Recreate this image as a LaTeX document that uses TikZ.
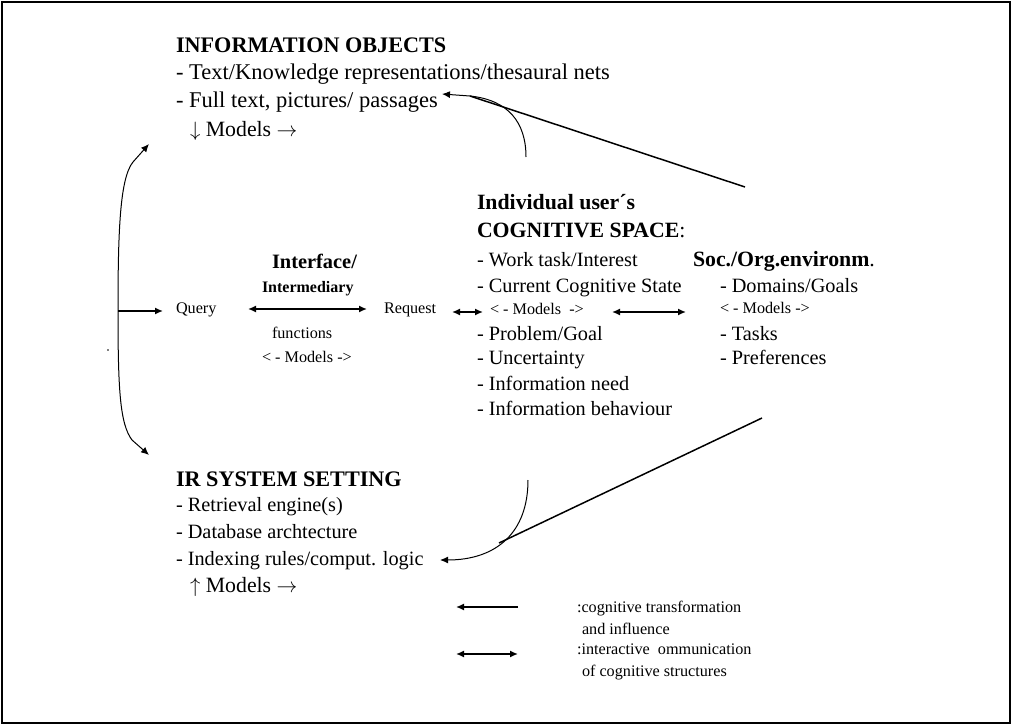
\documentclass[tikz,border=0pt]{standalone}
\usepackage{fontspec}
\setmainfont{Liberation Serif}
\usetikzlibrary{arrows.meta}
\tikzset{arrowhd/.tip={Latex[length=8pt,width=7pt]}}
\begin{document}
\begin{tikzpicture}[x=1pt,y=-1pt,
  txt/.style={anchor=base west,inner sep=0pt,outer sep=0pt},
  headA/.style={txt,font=\fontsize{22.2}{26}\selectfont\bfseries},
  headB/.style={txt,font=\fontsize{21.8}{26}\selectfont\bfseries},
  infotext/.style={txt,font=\fontsize{22.5}{26}\selectfont},
  modtext/.style={txt,font=\fontsize{21.8}{26}\selectfont},
  midtext/.style={txt,font=\fontsize{20.3}{24}\selectfont},
  smalltext/.style={txt,font=\fontsize{16.2}{19}\selectfont},
  smallbold/.style={txt,font=\fontsize{16}{19}\selectfont\bfseries},
  link/.style={line width=1.5pt},
  thinlink/.style={line width=1pt}]
\useasboundingbox (0,0) rectangle (1013,726);
\draw[line width=1.2pt] (2,2) rectangle (1010,723);

% information objects
\node[headA] (infohead) at (176,52) {INFORMATION OBJECTS};
\node[infotext] (info1) at (176,79) {- Text/Knowledge representations/thesaural nets};
\node[infotext] (info2) at (176,107) {- Full text, pictures/ passages};
\node[modtext] (info3) at (190,136) {$\downarrow$ Models $\rightarrow$};

% IR system setting
\node[headA] (irhead) at (176,486) {IR SYSTEM SETTING};
\node[midtext] (ir1) at (176,511) {- Retrieval engine(s)};
\node[midtext] (ir2) at (176,538) {- Database archtecture};
\node[midtext] (ir3) at (176,565) {- Indexing rules/comput. logic};
\node[modtext] (ir4) at (190,592) {$\uparrow$ Models $\rightarrow$};

% interface / intermediary
\node[txt,font=\fontsize{20.4}{24}\selectfont\bfseries] (ifhead1) at (272,268) {Interface/};
\node[smallbold] (ifhead2) at (262,292) {Intermediary};
\node[smalltext] (query) at (176,313) {Query};
\node[smalltext] (request) at (384,313) {Request};
\node[smalltext] (iffunc) at (272,338) {functions};
\node[smalltext] (ifmod) at (262,362) {< - Models ->};

% cognitive space
\node[headB] (coghead1) at (477,209) {Individual user´s};
\node[headB] (coghead2) at (477,237) {COGNITIVE SPACE\mdseries:};
\node[midtext] (cog1) at (477,266) {- Work task/Interest};
\node[midtext] (cog2) at (477,292) {- Current Cognitive State};
\node[smalltext] (cogmod) at (490,314) {< - Models\ \ ->};
\node[midtext] (cog3) at (477,340) {- Problem/Goal};
\node[midtext] (cog4) at (477,364) {- Uncertainty};
\node[midtext] (cog5) at (477,390) {- Information need};
\node[midtext] (cog6) at (477,415) {- Information behaviour};

% social / organisational environment
\node[headB] (sochead) at (693,266) {Soc./Org.environm\mdseries.};
\node[midtext] (soc1) at (720,292) {- Domains/Goals};
\node[smalltext] (socmod) at (720,313) {< - Models ->};
\node[midtext] (soc2) at (720,340) {- Tasks};
\node[midtext] (soc3) at (720,364) {- Preferences};

% legend
\node[smalltext] (leg1) at (577,612) {:cognitive transformation};
\node[smalltext] (leg2) at (582,634) {and influence};
\node[smalltext] (leg3) at (577,654) {:interactive\ \ ommunication};
\node[smalltext] (leg4) at (582,676) {of cognitive structures};
\node[circle,fill,inner sep=0pt,minimum size=1.6pt] (dot) at (108,350) {};

% end points of the connectors
\coordinate (brTop) at (149,144);
\coordinate (brTopK) at (133,162);
\coordinate (brMid) at (118,311);
\coordinate (brBotK) at (132,440);
\coordinate (brBot) at (149,455);
\coordinate (queryIn) at (163,311);
\coordinate (ifL) at (248,309);
\coordinate (ifR) at (367,309);
\coordinate (reqL) at (452,312);
\coordinate (reqR) at (483,312);
\coordinate (socL) at (612,312);
\coordinate (socR) at (686,312);
\coordinate (topTip) at (442,94);
\coordinate (topJoin) at (470,96);
\coordinate (topCurve) at (526,157);
\coordinate (topLine) at (745,187);
\coordinate (botTip) at (440,560);
\coordinate (botJoin) at (499,543);
\coordinate (botCurve) at (528,480);
\coordinate (botLine) at (762,418);
\coordinate (legAL) at (456,607);
\coordinate (legAR) at (518,607);
\coordinate (legBL) at (456,654);
\coordinate (legBR) at (518,654);

% bracket from the query to both sides
\draw[thinlink,arrowhd-arrowhd]
  (brTop) -- (brTopK) .. controls (120,178) and (118,230) .. (brMid)
  .. controls (118,390) and (120,424) .. (brBotK) -- (brBot);
\draw[link,-arrowhd] (brMid) -- (queryIn);

% interactive communication
\draw[link,arrowhd-arrowhd] (ifL) -- (ifR);
\draw[link,arrowhd-arrowhd] (reqL) -- (reqR);
\draw[link,arrowhd-arrowhd] (socL) -- (socR);

% cognitive transformation towards the information objects
\draw[link] (topLine) -- (topJoin);
\draw[thinlink] (topCurve) .. controls (526,122) and (508,100) .. (topJoin);
\draw[thinlink,-arrowhd] (topJoin) -- (topTip);

% cognitive transformation towards the IR system
\draw[link] (botLine) -- (botJoin);
\draw[thinlink,-arrowhd] (botCurve) .. controls (528,532) and (497,560) .. (botTip);

% legend arrows
\draw[link,-arrowhd] (legAR) -- (legAL);
\draw[link,arrowhd-arrowhd] (legBL) -- (legBR);
\end{tikzpicture}
\end{document}
